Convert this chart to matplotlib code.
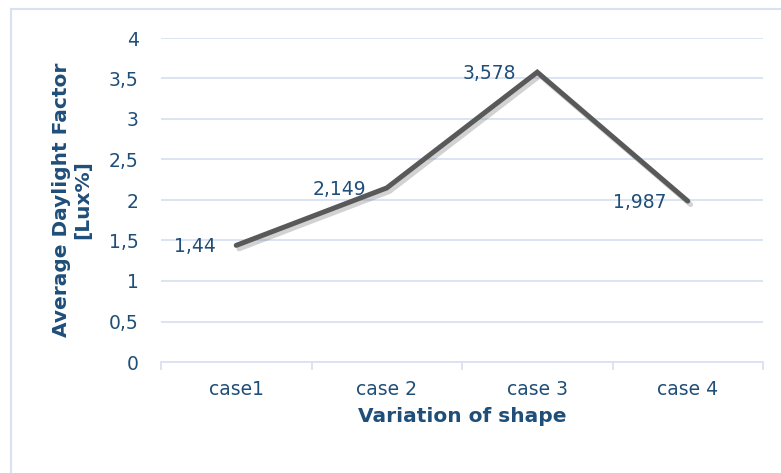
import matplotlib
matplotlib.use("Agg")
import matplotlib.pyplot as plt
import matplotlib.patheffects as pe
from matplotlib.lines import Line2D

# data
cases = ["case1", "case 2", "case 3", "case 4"]
daylight = [1.44, 2.149, 3.578, 1.987]
y_ticks = [0, 0.5, 1, 1.5, 2, 2.5, 3, 3.5, 4]

TXT = "#1F4E79"
GRID = "#D9E2F3"
LINE = "#595959"

plt.rcParams["font.family"] = ["DejaVu Sans"]

fig = plt.figure(figsize=(7.81, 4.73), dpi=100)
ax = fig.add_axes([161 / 781, 1 - 362 / 473, 602 / 781, 324 / 473])

# chart frame: only left and top edges fall inside the picture
fx, fy = 10.5 / 781, 1 - 9.5 / 473
fig.lines.append(Line2D([fx, fx], [0, fy], transform=fig.transFigure, color=GRID, linewidth=1.5))
fig.lines.append(Line2D([fx, 1], [fy, fy], transform=fig.transFigure, color=GRID, linewidth=1.5))

x = list(range(len(cases)))
ax.plot(x, daylight, color=LINE, linewidth=3.6, solid_capstyle="round", solid_joinstyle="miter",
        path_effects=[pe.SimpleLineShadow(offset=(2, -2.5), shadow_color="#7f7f7f", alpha=0.35),
                      pe.Normal()], zorder=3)

for xi, v in zip(x, daylight):
    lab = ("%g" % v).replace(".", ",")
    ax.annotate(lab, (xi, v), xytext=(-15, -1), textcoords="offset points",
                ha="right", va="center", color=TXT, fontsize=13.5)

ax.set_xlim(-0.5, len(cases) - 0.5)
ax.set_ylim(0, 4)
ax.set_yticks(y_ticks)
ax.set_yticklabels([("%g" % t).replace(".", ",") for t in y_ticks])
ax.set_xticks(x)
ax.set_xticklabels(cases)
ax.set_xticks([i - 0.5 for i in range(len(cases) + 1)], minor=True)

ax.grid(axis="y", color=GRID, linewidth=1.3)
ax.set_axisbelow(True)
for s in ["left", "right", "top"]:
    ax.spines[s].set_visible(False)
ax.spines["bottom"].set_color(GRID)
ax.spines["bottom"].set_linewidth(1.3)

ax.tick_params(axis="y", length=0, pad=16, labelsize=13.5, labelcolor=TXT)
ax.tick_params(axis="x", which="major", length=0, pad=13, labelsize=13.5, labelcolor=TXT)
ax.tick_params(axis="x", which="minor", length=6, width=1.3, color=GRID, direction="out")

ax.set_xlabel("Variation of shape", color=TXT, fontsize=14.5, fontweight="bold", labelpad=6)
ax.set_ylabel("Average Daylight Factor\n[Lux%]", color=TXT, fontsize=14.5, fontweight="bold",
              labelpad=12, linespacing=1.15)

fig.savefig("out.png", dpi=100)
